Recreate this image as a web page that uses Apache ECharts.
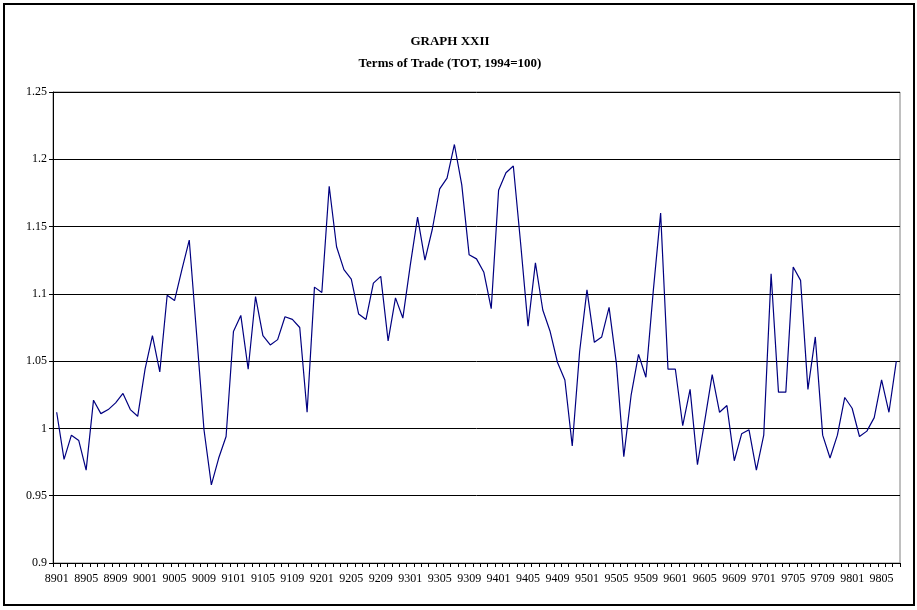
<!DOCTYPE html>
<html>
<head>
<meta charset="utf-8">
<script src="https://cdn.jsdelivr.net/npm/echarts@6/dist/echarts.min.js"></script>
<style>
  html, body { margin: 0; padding: 0; background: #fff; }
  #chart { width: 917px; height: 610px; }
</style>
</head>
<body>
<div id="chart"></div>
<script>
// monthly categories, 8901 .. 9807
var months = [
  '8901','8902','8903','8904','8905','8906','8907','8908','8909','8910','8911','8912',
  '9001','9002','9003','9004','9005','9006','9007','9008','9009','9010','9011','9012',
  '9101','9102','9103','9104','9105','9106','9107','9108','9109','9110','9111','9112',
  '9201','9202','9203','9204','9205','9206','9207','9208','9209','9210','9211','9212',
  '9301','9302','9303','9304','9305','9306','9307','9308','9309','9310','9311','9312',
  '9401','9402','9403','9404','9405','9406','9407','9408','9409','9410','9411','9412',
  '9501','9502','9503','9504','9505','9506','9507','9508','9509','9510','9511','9512',
  '9601','9602','9603','9604','9605','9606','9607','9608','9609','9610','9611','9612',
  '9701','9702','9703','9704','9705','9706','9707','9708','9709','9710','9711','9712',
  '9801','9802','9803','9804','9805','9806','9807'
];

// terms of trade index (1994=100, as ratio)
var tot = [
  1.012, 0.977, 0.995, 0.991, 0.969, 1.021, 1.011, 1.014, 1.019, 1.026, 1.014, 1.009,
  1.044, 1.069, 1.042, 1.099, 1.095, 1.118, 1.140, 1.070, 0.999, 0.958, 0.978, 0.994,
  1.072, 1.084, 1.044, 1.098, 1.069, 1.062, 1.066, 1.083, 1.081, 1.075, 1.012, 1.105,
  1.101, 1.180, 1.135, 1.118, 1.111, 1.085, 1.081, 1.108, 1.113, 1.065, 1.097, 1.082,
  1.121, 1.157, 1.125, 1.148, 1.178, 1.186, 1.211, 1.181, 1.129, 1.126, 1.116, 1.089,
  1.177, 1.190, 1.195, 1.137, 1.076, 1.123, 1.088, 1.072, 1.049, 1.036, 0.987, 1.057,
  1.103, 1.064, 1.068, 1.090, 1.048, 0.979, 1.025, 1.055, 1.038, 1.102, 1.160, 1.044,
  1.044, 1.002, 1.029, 0.973, 1.006, 1.040, 1.012, 1.017, 0.976, 0.996, 0.999, 0.969,
  0.995, 1.115, 1.027, 1.027, 1.120, 1.110, 1.029, 1.068, 0.995, 0.978, 0.995, 1.023,
  1.015, 0.994, 0.998, 1.008, 1.036, 1.012, 1.050
];

var serif = '"Liberation Serif", "Times New Roman", serif';

var myChart = echarts.init(document.getElementById('chart'));
myChart.setOption({
  animation: false,
  backgroundColor: '#fff',
  title: {
    text: 'GRAPH XXII\nTerms of Trade (TOT, 1994=100)',
    left: 445,
    top: 26,
    textAlign: 'center',
    textStyle: {
      fontFamily: serif,
      fontSize: 13,
      fontWeight: 'bold',
      color: '#000',
      lineHeight: 22
    }
  },
  graphic: [
    {
      type: 'rect',
      shape: { x: 4, y: 4, width: 910, height: 601 },
      style: { fill: null, stroke: '#000', lineWidth: 2 },
      silent: true
    }
  ],
  grid: {
    left: 53,
    right: 17,
    top: 92,
    bottom: 47,
    show: true,
    borderColor: '#808080',
    borderWidth: 1
  },
  xAxis: {
    type: 'category',
    data: months,
    boundaryGap: true,
    axisLine: { lineStyle: { color: '#000', width: 1 } },
    axisTick: { show: true, interval: 0, length: 4, lineStyle: { color: '#000' } },
    axisLabel: {
      interval: 3,
      fontFamily: serif,
      fontSize: 12,
      color: '#000',
      margin: 10
    },
    splitLine: { show: false }
  },
  yAxis: {
    type: 'value',
    min: 0.9,
    max: 1.25,
    interval: 0.05,
    axisLine: { show: true, lineStyle: { color: '#000', width: 1 } },
    axisTick: { show: true, length: 4, lineStyle: { color: '#000' } },
    axisLabel: {
      fontFamily: serif,
      fontSize: 12,
      color: '#000',
      margin: 6
    },
    splitLine: { show: true, lineStyle: { color: '#000', width: 1 } }
  },
  series: [
    {
      name: 'TOT',
      type: 'line',
      data: tot,
      symbol: 'none',
      lineStyle: { color: '#000080', width: 1.2 },
      itemStyle: { color: '#000080' }
    }
  ]
});
</script>
</body>
</html>
